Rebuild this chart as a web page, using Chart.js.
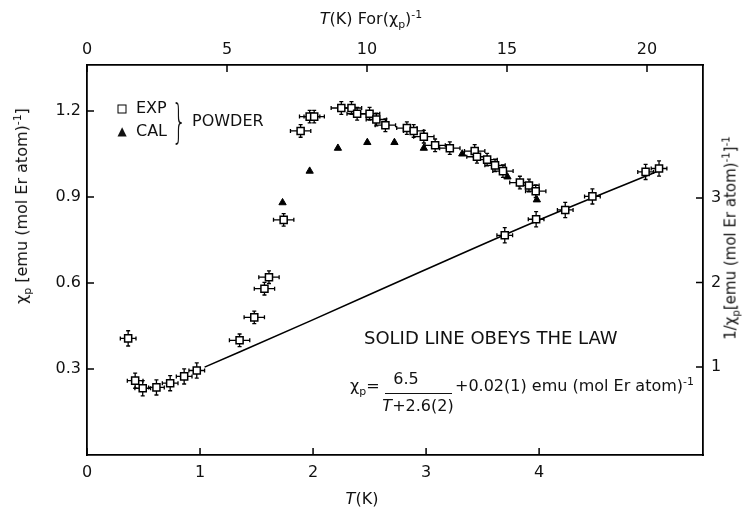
<!DOCTYPE html>
<html>
<head>
<meta charset="utf-8">
<script src="https://cdn.jsdelivr.net/npm/chart.js@4.4.1/dist/chart.umd.min.js"></script>
<style>
  body { margin: 0; background: #fff; }
  #wrap { position: relative; width: 745px; height: 512px; font-family: 'DejaVu Sans', sans-serif; color: #111; }
  #wrap canvas { position: absolute; left: 0; top: 0; }
  .lbl { position: absolute; white-space: nowrap; line-height: 1; font-size: 16px; }
  .c { transform: translate(-50%, -50%); }
  .l { transform: translate(0, -50%); }
  .rot { transform: translate(-50%, -50%) rotate(-90deg); }
  sub, sup { font-size: 68%; line-height: 0; }
  i { font-style: italic; }
</style>
</head>
<body>
<div id="wrap">
  <canvas id="chart" width="745" height="512"></canvas>

  <div class="lbl c" style="left:371px; top:19px;"><i>T</i>(K) For(χ<sub>p</sub>)<sup>-1</sup></div>
  <div class="lbl c" style="left:362px; top:499px;"><i>T</i>(K)</div>
  <div class="lbl rot" style="left:22px; top:206px;">χ<sub>p</sub> [emu (mol Er atom)<sup>-1</sup>]</div>
  <div class="lbl rot" style="left:731px; top:238px; font-size:15px;">1/χ<sub>p</sub>[emu (mol Er atom)<sup>-1</sup>]<sup>-1</sup></div>

  <!-- legend -->
  <div class="lbl c" style="left:122px; top:109px; width:7px; height:7px; border:1.5px solid #000;"></div>
  <div class="lbl l" style="left:136px; top:108px;">EXP</div>
  <div class="lbl c" style="left:122px; top:131px; font-size:12px;">▲</div>
  <div class="lbl l" style="left:136px; top:131px;">CAL</div>
  <div class="lbl c" style="left:179px; top:121px; font-size:46px; font-weight:200; transform:translate(-50%,-50%) scaleX(0.5);">}</div>
  <div class="lbl l" style="left:192px; top:121px;">POWDER</div>

  <!-- annotation -->
  <div class="lbl l" style="left:364px; top:338px; font-size:18px;">SOLID LINE OBEYS THE LAW</div>
  <div class="lbl l" style="left:350px; top:386px;">χ<sub>p</sub>=</div>
  <div class="lbl c" style="left:406px; top:379px;">6.5</div>
  <div class="lbl" style="left:385px; top:393px; width:67px; height:1.2px; background:#111;"></div>
  <div class="lbl c" style="left:418px; top:406px;"><i>T</i>+2.6(2)</div>
  <div class="lbl l" style="left:455px; top:386px;">+0.02(1) emu (mol Er atom)<sup>-1</sup></div>
</div>

<script>
// chi_p against T (bottom axis, K)
const expT   = [1.35, 1.48, 1.57, 1.61, 1.74, 1.89, 1.97, 2.01, 2.25, 2.34, 2.39, 2.50, 2.56, 2.64, 2.83, 2.89, 2.98, 3.08, 3.21, 3.43, 3.45, 3.54, 3.61, 3.68, 3.83, 3.91, 3.97];
const expChi = [0.40, 0.48, 0.58, 0.62, 0.82, 1.13, 1.18, 1.18, 1.21, 1.21, 1.19, 1.19, 1.17, 1.15, 1.14, 1.13, 1.11, 1.08, 1.07, 1.06, 1.04, 1.03, 1.01, 0.99, 0.95, 0.94, 0.92];
const calT   = [1.73, 1.97, 2.22, 2.48, 2.72, 2.98, 3.32, 3.72, 3.98];
const calChi = [0.88, 0.99, 1.07, 1.09, 1.09, 1.07, 1.05, 0.97, 0.89];

// 1/chi_p against T (top axis, K)
const invT   = [1.47, 1.72, 1.99, 2.48, 2.97, 3.47, 3.92, 14.92, 16.04, 17.08, 18.05, 19.95, 20.43];
const invChi = [1.34, 0.84, 0.75, 0.76, 0.81, 0.89, 0.96, 2.56, 2.75, 2.86, 3.02, 3.31, 3.35];

// solid line (Curie-Weiss law)
const fitT   = [4.2, 8, 12, 16, 20.4];
const fitInv = [1.0, 1.55, 2.14, 2.72, 3.32];

// tick labels
const bottomTicks = [0, 1, 2, 3, 4];
const topTicks    = [0, 5, 10, 15, 20];
const leftTicks   = [0.3, 0.6, 0.9, 1.2];
const rightTicks  = [1, 2, 3];

const toPoints = (xs, ys) => xs.map((x, i) => ({ x: x, y: ys[i] }));

// error bars, drawn under the markers
const errorBars = {
    id: 'errorBars',
    beforeDatasetsDraw(chart) {
        const ctx = chart.ctx;
        ctx.save();
        ctx.strokeStyle = '#000';
        ctx.lineWidth = 1.3;
        chart.data.datasets.forEach(ds => {
            if (!ds.errX) return;
            const xs = chart.scales[ds.xAxisID];
            const ys = chart.scales[ds.yAxisID];
            ds.data.forEach(p => {
                const px = xs.getPixelForValue(p.x), py = ys.getPixelForValue(p.y);
                const x0 = xs.getPixelForValue(p.x - ds.errX), x1 = xs.getPixelForValue(p.x + ds.errX);
                const y0 = ys.getPixelForValue(p.y - ds.errY), y1 = ys.getPixelForValue(p.y + ds.errY);
                ctx.beginPath();
                ctx.moveTo(x0, py); ctx.lineTo(x1, py);
                ctx.moveTo(px, y0); ctx.lineTo(px, y1);
                ctx.moveTo(x0, py - 2); ctx.lineTo(x0, py + 2);
                ctx.moveTo(x1, py - 2); ctx.lineTo(x1, py + 2);
                ctx.moveTo(px - 2, y0); ctx.lineTo(px + 2, y0);
                ctx.moveTo(px - 2, y1); ctx.lineTo(px + 2, y1);
                ctx.stroke();
            });
        });
        ctx.restore();
    }
};

// tick marks pointing into the frame
const inwardTicks = {
    id: 'inwardTicks',
    afterDraw(chart) {
        const ctx = chart.ctx, a = chart.chartArea, len = 7;
        ctx.save();
        ctx.strokeStyle = '#000';
        ctx.lineWidth = 1.5;
        ctx.beginPath();
        chart.scales.x.ticks.forEach(t => {
            const p = chart.scales.x.getPixelForValue(t.value);
            ctx.moveTo(p, a.bottom); ctx.lineTo(p, a.bottom - len);
        });
        chart.scales.x2.ticks.forEach(t => {
            const p = chart.scales.x2.getPixelForValue(t.value);
            ctx.moveTo(p, a.top); ctx.lineTo(p, a.top + len);
        });
        chart.scales.y.ticks.forEach(t => {
            const p = chart.scales.y.getPixelForValue(t.value);
            ctx.moveTo(a.left, p); ctx.lineTo(a.left + len, p);
        });
        chart.scales.y2.ticks.forEach(t => {
            const p = chart.scales.y2.getPixelForValue(t.value);
            ctx.moveTo(a.right, p); ctx.lineTo(a.right - len, p);
        });
        ctx.stroke();
        ctx.restore();
    }
};

Chart.defaults.font.family = "'DejaVu Sans', sans-serif";
Chart.defaults.color = '#111';

const tickFont = { size: 16 };
const frame = { display: true, color: '#000', width: 1.8 };

new Chart(document.getElementById('chart'), {
    type: 'scatter',
    data: {
        datasets: [
            {
                label: 'EXP',
                data: toPoints(expT, expChi),
                xAxisID: 'x', yAxisID: 'y',
                pointStyle: 'rect', pointRadius: 5,
                backgroundColor: '#fff', borderColor: '#000', borderWidth: 1.5,
                errX: 0.09, errY: 0.022
            },
            {
                label: 'CAL',
                data: toPoints(calT, calChi),
                xAxisID: 'x', yAxisID: 'y',
                pointStyle: 'triangle', pointRadius: 4.2,
                backgroundColor: '#000', borderColor: '#000', borderWidth: 1
            },
            {
                label: 'EXP 1/chi',
                data: toPoints(invT, invChi),
                xAxisID: 'x2', yAxisID: 'y2',
                pointStyle: 'rect', pointRadius: 5,
                backgroundColor: '#fff', borderColor: '#000', borderWidth: 1.5,
                errX: 0.28, errY: 0.09
            },
            {
                label: 'law',
                data: toPoints(fitT, fitInv),
                xAxisID: 'x2', yAxisID: 'y2',
                showLine: true, pointRadius: 0,
                borderColor: '#000', borderWidth: 1.6,
                cubicInterpolationMode: 'monotone'
            }
        ]
    },
    options: {
        responsive: false,
        animation: false,
        layout: { padding: 0 },
        plugins: {
            legend: { display: false },
            tooltip: { enabled: false }
        },
        scales: {
            x: {
                type: 'linear', position: 'bottom', min: 0, max: 5.45,
                afterBuildTicks: s => { s.ticks = bottomTicks.map(v => ({ value: v })); },
                afterFit: s => { s.height = 57; },
                ticks: { font: tickFont, padding: 8, maxRotation: 0 },
                grid: { display: false, drawTicks: false },
                border: frame
            },
            x2: {
                type: 'linear', position: 'top', min: 0, max: 22,
                afterBuildTicks: s => { s.ticks = topTicks.map(v => ({ value: v })); },
                afterFit: s => { s.height = 65; },
                ticks: { font: tickFont, padding: 6, maxRotation: 0 },
                grid: { display: false, drawTicks: false },
                border: frame
            },
            y: {
                type: 'linear', position: 'left', min: 0, max: 1.36,
                afterBuildTicks: s => { s.ticks = leftTicks.map(v => ({ value: v })); },
                afterFit: s => { s.width = 87; },
                ticks: { font: tickFont, padding: 6 },
                grid: { display: false, drawTicks: false },
                border: frame
            },
            y2: {
                type: 'linear', position: 'right', min: -0.04, max: 4.575,
                afterBuildTicks: s => { s.ticks = rightTicks.map(v => ({ value: v })); },
                afterFit: s => { s.width = 42; },
                ticks: { font: tickFont, padding: 8 },
                grid: { display: false, drawTicks: false },
                border: frame
            }
        }
    },
    plugins: [errorBars, inwardTicks]
});
</script>
</body>
</html>
